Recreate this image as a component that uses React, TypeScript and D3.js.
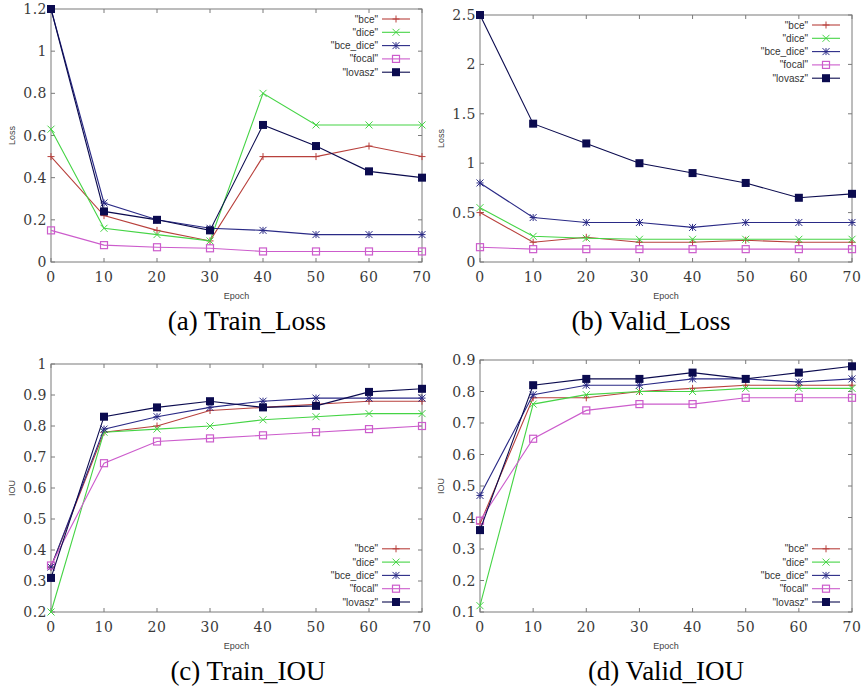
import React, { useEffect, useRef } from "react";
import * as d3 from "d3";

const epochs = [0, 10, 20, 30, 40, 50, 60, 70];
const seriesNames = ['"bce"', '"dice"', '"bce_dice"', '"focal"', '"lovasz"'];
const seriesColors = ["#b8403c", "#45d445", "#2a2a86", "#cc5ccc", "#0b0b4f"];
const seriesMarkers = ["plus", "cross", "star", "square", "filled"];

// (a) Train_Loss
const trainLossBce = [0.5, 0.22, 0.15, 0.1, 0.5, 0.5, 0.55, 0.5];
const trainLossDice = [0.63, 0.16, 0.13, 0.1, 0.8, 0.65, 0.65, 0.65];
const trainLossBceDice = [1.2, 0.28, 0.2, 0.16, 0.15, 0.13, 0.13, 0.13];
const trainLossFocal = [0.15, 0.08, 0.07, 0.065, 0.05, 0.05, 0.05, 0.05];
const trainLossLovasz = [1.2, 0.24, 0.2, 0.15, 0.65, 0.55, 0.43, 0.4];

// (b) Valid_Loss
const validLossBce = [0.5, 0.2, 0.25, 0.2, 0.2, 0.22, 0.2, 0.2];
const validLossDice = [0.55, 0.26, 0.24, 0.23, 0.23, 0.23, 0.23, 0.23];
const validLossBceDice = [0.8, 0.45, 0.4, 0.4, 0.35, 0.4, 0.4, 0.4];
const validLossFocal = [0.15, 0.13, 0.13, 0.13, 0.13, 0.13, 0.13, 0.13];
const validLossLovasz = [2.5, 1.4, 1.2, 1.0, 0.9, 0.8, 0.65, 0.69];

// (c) Train_IOU
const trainIouBce = [0.345, 0.78, 0.8, 0.85, 0.86, 0.87, 0.88, 0.88];
const trainIouDice = [0.2, 0.78, 0.79, 0.8, 0.82, 0.83, 0.84, 0.84];
const trainIouBceDice = [0.345, 0.79, 0.83, 0.86, 0.88, 0.89, 0.89, 0.89];
const trainIouFocal = [0.35, 0.68, 0.75, 0.76, 0.77, 0.78, 0.79, 0.8];
const trainIouLovasz = [0.31, 0.83, 0.86, 0.88, 0.86, 0.865, 0.91, 0.92];

// (d) Valid_IOU
const validIouBce = [0.38, 0.78, 0.78, 0.8, 0.81, 0.82, 0.82, 0.82];
const validIouDice = [0.12, 0.76, 0.79, 0.8, 0.8, 0.81, 0.81, 0.81];
const validIouBceDice = [0.47, 0.79, 0.82, 0.82, 0.84, 0.84, 0.83, 0.84];
const validIouFocal = [0.39, 0.65, 0.74, 0.76, 0.76, 0.78, 0.78, 0.78];
const validIouLovasz = [0.36, 0.82, 0.84, 0.84, 0.86, 0.84, 0.86, 0.88];

const trainLossTicks = [0, 0.2, 0.4, 0.6, 0.8, 1, 1.2];
const validLossTicks = [0, 0.5, 1, 1.5, 2, 2.5];
const trainIouTicks = [0.2, 0.3, 0.4, 0.5, 0.6, 0.7, 0.8, 0.9, 1];
const validIouTicks = [0.1, 0.2, 0.3, 0.4, 0.5, 0.6, 0.7, 0.8, 0.9];

const panels = [
  {
    caption: "(a)  Train_Loss", yTitle: "Loss", ticks: trainLossTicks,
    series: [trainLossBce, trainLossDice, trainLossBceDice, trainLossFocal, trainLossLovasz],
    left: 51, right: 422, top: 9, bottom: 262, legend: "top", capX: 247,
  },
  {
    caption: "(b) Valid_Loss", yTitle: "Loss", ticks: validLossTicks,
    series: [validLossBce, validLossDice, validLossBceDice, validLossFocal, validLossLovasz],
    left: 480, right: 852, top: 15, bottom: 262, legend: "top", capX: 651,
  },
  {
    caption: "(c)  Train_IOU", yTitle: "IOU", ticks: trainIouTicks,
    series: [trainIouBce, trainIouDice, trainIouBceDice, trainIouFocal, trainIouLovasz],
    left: 51, right: 422, top: 364, bottom: 612, legend: "bottom", capX: 248,
  },
  {
    caption: "(d) Valid_IOU", yTitle: "IOU", ticks: validIouTicks,
    series: [validIouBce, validIouDice, validIouBceDice, validIouFocal, validIouLovasz],
    left: 480, right: 852, top: 360, bottom: 612, legend: "bottom", capX: 666,
  },
];

function drawMarker(g: any, kind: string, x: number, y: number, color: string) {
  const s = 3.5;
  if (kind === "plus" || kind === "star") {
    g.append("path").attr("d", `M${x - s},${y}H${x + s}M${x},${y - s}V${y + s}`)
      .attr("stroke", color).attr("stroke-width", 1);
  }
  if (kind === "cross" || kind === "star") {
    g.append("path").attr("d", `M${x - s},${y - s}L${x + s},${y + s}M${x - s},${y + s}L${x + s},${y - s}`)
      .attr("stroke", color).attr("stroke-width", 1);
  }
  if (kind === "square") {
    g.append("rect").attr("x", x - 3.5).attr("y", y - 3.5).attr("width", 7).attr("height", 7)
      .attr("fill", "none").attr("stroke", color).attr("stroke-width", 1.2);
  }
  if (kind === "filled") {
    g.append("rect").attr("x", x - 4).attr("y", y - 4).attr("width", 8).attr("height", 8)
      .attr("fill", color);
  }
}

export default function App() {
  const ref = useRef<SVGSVGElement>(null);

  useEffect(() => {
    const svg = d3.select(ref.current);
    svg.selectAll("*").remove();
    const frameColor = "#7a7a7a";
    const tickFont = "'DejaVu Serif', serif";
    const sans = "'Liberation Sans', Arial, sans-serif";

    panels.forEach((p) => {
      const g = svg.append("g");
      const x = d3.scaleLinear().domain([0, 70]).range([p.left, p.right]);
      const y = d3.scaleLinear().domain([p.ticks[0], p.ticks[p.ticks.length - 1]]).range([p.bottom, p.top]);

      // frame
      g.append("rect").attr("x", p.left).attr("y", p.top)
        .attr("width", p.right - p.left).attr("height", p.bottom - p.top)
        .attr("fill", "none").attr("stroke", frameColor).attr("stroke-width", 1);

      // ticks (inward, mirrored like gnuplot)
      epochs.forEach((e) => {
        g.append("path").attr("d", `M${x(e)},${p.bottom}v-4M${x(e)},${p.top}v4`)
          .attr("stroke", frameColor);
        g.append("text").attr("x", x(e)).attr("y", p.bottom + 20)
          .attr("text-anchor", "middle").attr("font-family", tickFont).attr("font-size", 14)
          .attr("letter-spacing", "0.5px").attr("fill", "#3a3a3a").text(String(e));
      });
      p.ticks.forEach((t) => {
        g.append("path").attr("d", `M${p.left},${y(t)}h4M${p.right},${y(t)}h-4`)
          .attr("stroke", frameColor);
        g.append("text").attr("x", p.left - 4).attr("y", y(t) + 5)
          .attr("text-anchor", "end").attr("font-family", tickFont).attr("font-size", 14)
          .attr("letter-spacing", "0.5px").attr("fill", "#3a3a3a")
          .text(String(+t.toFixed(1)));
      });

      // axis titles
      g.append("text").attr("x", (p.left + p.right) / 2).attr("y", p.bottom + 37)
        .attr("text-anchor", "middle").attr("font-family", sans).attr("font-size", 9)
        .attr("fill", "#444").text("Epoch");
      g.append("text")
        .attr("transform", `translate(${p.left - 36},${(p.top + p.bottom) / 2}) rotate(-90)`)
        .attr("text-anchor", "middle").attr("font-family", sans).attr("font-size", 9)
        .attr("fill", "#444").text(p.yTitle);

      // series
      const line = d3.line<number>().x((_, i) => x(epochs[i])).y((d) => y(d));
      p.series.forEach((vals, si) => {
        g.append("path").datum(vals).attr("d", line).attr("fill", "none")
          .attr("stroke", seriesColors[si]).attr("stroke-width", 1.1);
        vals.forEach((v, i) => drawMarker(g, seriesMarkers[si], x(epochs[i]), y(v), seriesColors[si]));
      });

      // legend
      const rowH = 13.3;
      const firstY = p.legend === "top" ? p.top + 10 : p.bottom - 10 - 4 * rowH;
      seriesNames.forEach((name, si) => {
        const ly = firstY + si * rowH;
        g.append("text").attr("x", p.right - 44).attr("y", ly + 3.5)
          .attr("text-anchor", "end").attr("font-family", sans).attr("font-size", 10)
          .attr("fill", "#333").text(name);
        g.append("line").attr("x1", p.right - 40).attr("x2", p.right - 12)
          .attr("y1", ly).attr("y2", ly).attr("stroke", seriesColors[si]).attr("stroke-width", 1.1);
        drawMarker(g, seriesMarkers[si], p.right - 26, ly, seriesColors[si]);
      });

      // caption
      g.append("text").attr("x", p.capX).attr("y", p.bottom + 68)
        .attr("text-anchor", "middle").attr("font-family", "'Liberation Serif', 'Times New Roman', serif")
        .attr("font-size", 27).attr("fill", "#000").text(p.caption);
    });
  }, []);

  return (
    <div style={{ position: "absolute", left: 0, top: 0 }}>
      <svg ref={ref} width={866} height={687} style={{ display: "block", background: "#fff" }} />
    </div>
  );
}
